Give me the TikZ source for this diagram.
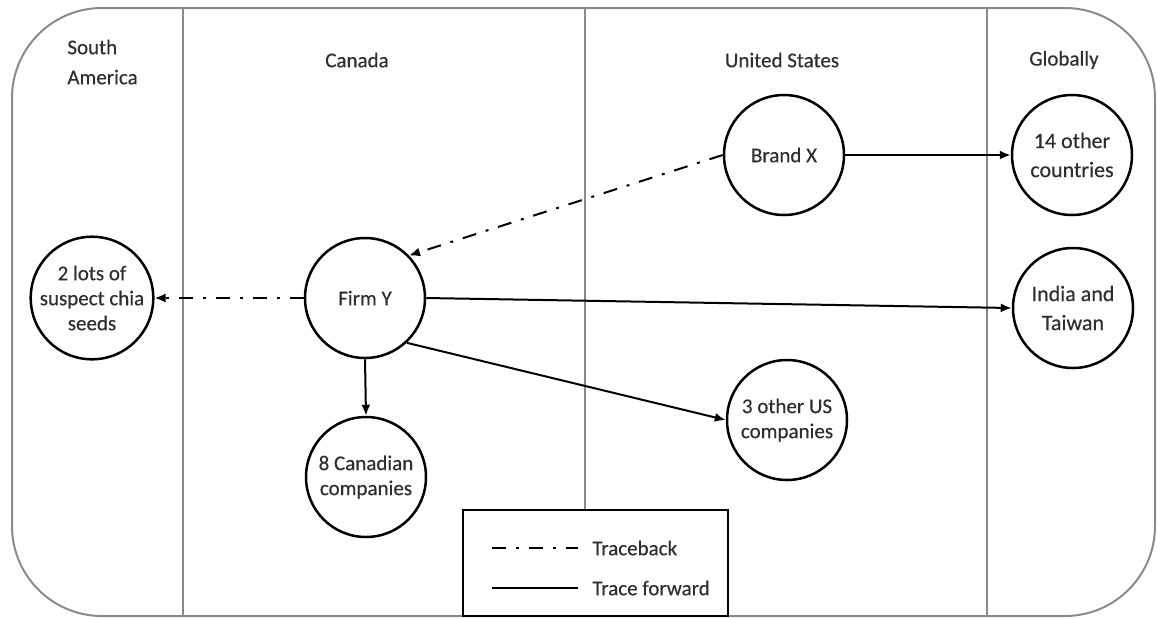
\documentclass[tikz,border=0pt]{standalone}
\usepackage{fontspec}
\setmainfont{Carlito}[FakeBold=0.35]
\usetikzlibrary{arrows.meta}
\definecolor{framegray}{HTML}{8A8A8A}
\definecolor{txt}{HTML}{2E2E2E}
\tikzset{
  place/.style={circle, draw=black, line width=1.25pt, minimum size=60pt, inner sep=0pt, align=center, text=txt, font=\fontsize{10.5}{12.5}\selectfont},
  header/.style={text=txt, font=\fontsize{10.5}{15}\selectfont, inner sep=0pt},
  fwd/.style={line width=1pt, -{Latex[length=5.5pt,width=4.5pt]}},
  back/.style={line width=1pt, dash pattern=on 7pt off 5pt on 1.5pt off 5pt, -{Latex[length=5.5pt,width=4.5pt]}},
  legtxt/.style={text=txt, font=\fontsize{10.5}{12}\selectfont, inner sep=0pt, anchor=west}
}
\begin{document}
\begin{tikzpicture}[x=0.5pt, y=-0.5pt]
\useasboundingbox (0,0) rectangle (1157,618);
% frame and dividers
\draw[framegray, line width=1pt, rounded corners=45pt] (12,8) rectangle (1155,616);
\draw[framegray, line width=1pt] (183,8) -- (183,616);
\draw[framegray, line width=1pt] (585,8) -- (585,616);
\draw[framegray, line width=1pt] (987,8) -- (987,616);
% headers
\node[header, anchor=west, align=left] (hsa) at (67,62) {South\\America};
\node[header] (hca) at (357,60) {Canada};
\node[header] (hus) at (782,60) {United States};
\node[header] (hgl) at (1064,60) {Globally};
% places
\node[place] (lots) at (92,298) {2 lots of\\suspect chia\\seeds};
\node[place] (firmy) at (365,298) {Firm Y};
\node[place] (can) at (366,477) {8 Canadian\\companies};
\node[place] (brandx) at (784,155) {Brand X};
\node[place] (usco) at (787,420) {3 other US\\companies};
\node[place, font=\fontsize{11}{14.5}\selectfont] (other) at (1072,155) {14 other\\countries};
\node[place, font=\fontsize{11}{14.5}\selectfont] (india) at (1073,308) {India and\\Taiwan};
% connectors
\draw[back] (brandx.west) -- (firmy.44);
\draw[back] (firmy.west) -- (lots.east);
\draw[fwd] (brandx.east) -- (other.west);
\draw[fwd] (firmy.east) -- (india.west);
\draw[fwd] (firmy.-47) -- (usco.west);
\draw[fwd] (firmy.south) -- (can.north);
% legend
\draw[black, line width=1pt, fill=white] (463,510) rectangle (728,616);
\coordinate (l1a) at (492,548);
\coordinate (l1b) at (578,548);
\coordinate (l2a) at (492,588);
\coordinate (l2b) at (578,588);
\draw[line width=1.2pt, dash pattern=on 7pt off 5pt on 1.5pt off 5pt] (l1a) -- (l1b);
\draw[line width=1.2pt] (l2a) -- (l2b);
\node[legtxt] (t1) at (592,548) {Traceback};
\node[legtxt] (t2) at (592,588) {Trace forward};
\end{tikzpicture}
\end{document}
